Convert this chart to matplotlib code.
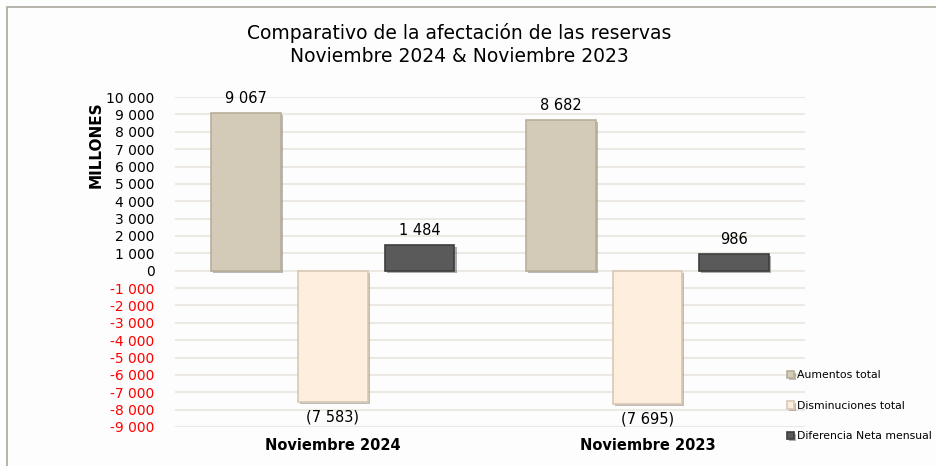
import numpy as np
import matplotlib.pyplot as plt
import matplotlib.patheffects as pe

categorias = ['Noviembre 2024', 'Noviembre 2023']
series = ['Aumentos total', 'Disminuciones total', 'Diferencia Neta mensual']
aumentos = [9067, 8682]
disminuciones = [-7583, -7695]
diferencia = [1484, 986]
colores = ['#d3cbb8', '#fdeede', '#5a5a5a']
bordes = ['#b8af9a', '#d9c8b4', '#3e3e3e']
yticks = list(range(-9000, 10001, 1000))


def fmt(v):
    s = f'{abs(v):,}'.replace(',', ' ')
    return f'({s})' if v < 0 else s


fig = plt.figure(figsize=(9.37, 4.66), dpi=100, facecolor='#fdfdfd')
ax = fig.add_axes([0.187, 0.0837, 0.672, 0.708])
ax.set_facecolor('#fdfdfd')

# marco del gráfico
fig.patches.append(plt.Rectangle((0.0075, -0.01), 1.0, 0.995, transform=fig.transFigure,
                                 fill=False, edgecolor='#aaa79c', linewidth=1.2))

x = np.arange(len(categorias))
w = 0.222
off = 0.276
datos = [aumentos, disminuciones, diferencia]
handles = []
for i, (vals, c, b) in enumerate(zip(datos, colores, bordes)):
    bars = ax.bar(x + (i - 1) * off, vals, w, color=c, edgecolor=b, linewidth=1.2,
                  label=series[i], zorder=3)
    for r in bars:
        r.set_path_effects([pe.SimplePatchShadow(offset=(1.5, -1.5), alpha=0.35), pe.Normal()])
    handles.append(bars)
    for xi, v in zip(x + (i - 1) * off, vals):
        if v >= 0:
            ax.annotate(fmt(v), (xi, v), xytext=(0, 5), textcoords='offset points',
                        ha='center', va='bottom', fontsize=10.5)
        else:
            ax.annotate(fmt(v), (xi, v), xytext=(0, -5), textcoords='offset points',
                        ha='center', va='top', fontsize=10.5)

ax.set_xlim(-0.5, 1.5)
ax.set_ylim(-9000, 10000)
ax.set_yticks(yticks)
ax.set_yticklabels([f'{t:,}'.replace(',', ' ') for t in yticks], fontsize=10)
for lab, t in zip(ax.get_yticklabels(), yticks):
    if t < 0:
        lab.set_color('red')
ax.set_xticks(x)
ax.set_xticklabels(categorias, fontsize=10.5, fontweight='bold')
ax.tick_params(length=0)
ax.tick_params(axis='y', pad=15)
ax.tick_params(axis='x', pad=8)
ax.grid(axis='y', color='#ece9e4', linewidth=1.5, zorder=0)
for s in ax.spines.values():
    s.set_visible(False)

fig.text(0.103, 0.69, 'MILLONES', rotation=90, ha='center', va='center',
         fontsize=11, fontweight='bold')

fig.text(0.49, 0.93, 'Comparativo de la afectación de las reservas', ha='center',
         va='center', fontsize=13.5)
fig.text(0.49, 0.878, 'Noviembre 2024 & Noviembre 2023', ha='center',
         va='center', fontsize=13.5)

leg = fig.legend(handles=handles, labels=series, loc='upper left',
                 bbox_to_anchor=(0.835, 0.215), frameon=False, fontsize=7.8,
                 handlelength=0.7, handleheight=0.7, handletextpad=0.25,
                 labelspacing=1.9, borderaxespad=0)

fig.savefig('out.png', dpi=100, facecolor=fig.get_facecolor())
